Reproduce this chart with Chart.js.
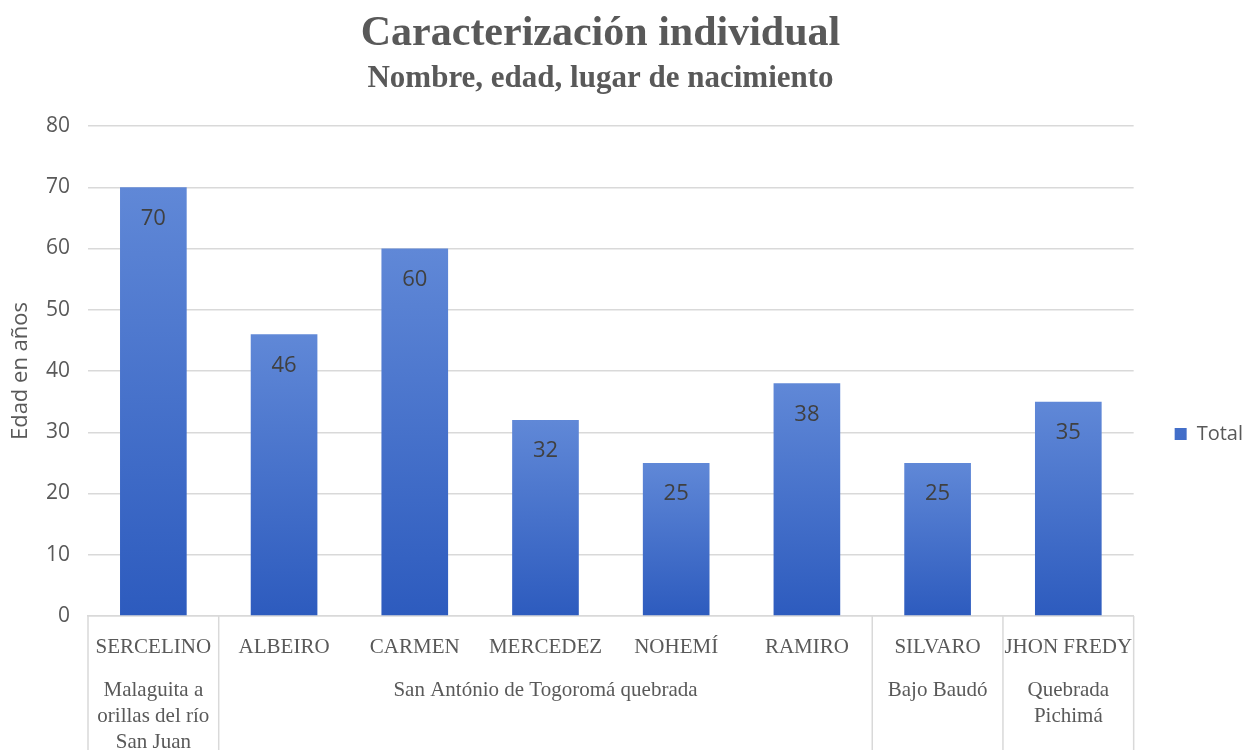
<!DOCTYPE html>
<html>
<head>
<meta charset="utf-8">
<script src="https://cdn.jsdelivr.net/npm/chart.js@4.4.0/dist/chart.umd.min.js"></script>
<style>
  html, body { margin: 0; padding: 0; background: #fff; }
  #wrap { width: 1243px; height: 750px; }
</style>
</head>
<body>
<div id="wrap"><canvas id="grafico"></canvas></div>
<script>
// datos del gráfico
const nombres = ['SERCELINO', 'ALBEIRO', 'CARMEN', 'MERCEDEZ', 'NOHEMÍ', 'RAMIRO', 'SILVARO', 'JHON FREDY'];
const edades = [70, 46, 60, 32, 25, 38, 25, 35];
const lugares = [
  ['Malaguita a', 'orillas del río', 'San Juan'],
  ['San António de Togoromá quebrada'],
  ['Bajo Baudó'],
  ['Quebrada', 'Pichimá']
];
const lugarDesde = [0, 1, 6, 7];
const lugarHasta = [0, 5, 6, 7];
const edadMax = 80;
const edadPaso = 10;
const titulo = 'Caracterización individual';
const subtitulo = 'Nombre, edad, lugar de nacimiento';

const gris = '#595959';
const linea = '#d9d9d9';
const serif = "'Liberation Serif', 'Times New Roman', serif";
const sans = "'Open Sans', 'Liberation Sans', sans-serif";

// títulos arriba, un poco a la izquierda como en el original
const titulosPlugin = {
  id: 'titulos',
  afterDraw(chart) {
    const ctx = chart.ctx;
    const cx = chart.width / 2 - 21;
    ctx.save();
    ctx.fillStyle = gris;
    ctx.textAlign = 'center';
    ctx.textBaseline = 'middle';
    ctx.font = 'bold 42px ' + serif;
    ctx.fillText(titulo, cx, 34);
    ctx.font = 'bold 31px ' + serif;
    ctx.fillText(subtitulo, cx, 79);
    ctx.restore();
  }
};

// leyenda centrada sobre el área del gráfico con el eje
const leyendaPlugin = {
  id: 'leyendaCentro',
  afterLayout(chart) {
    const lg = chart.legend;
    if (!lg) return;
    const objetivo = (chart.chartArea.top + chart.height) / 2 - 4;
    const d = objetivo - (lg.top + lg.bottom) / 2;
    lg.top += d;
    lg.bottom += d;
    lg.left += 10;
    lg.right += 10;
  }
};

// etiquetas de lugar y separadores bajo el eje x
const lugaresPlugin = {
  id: 'lugares',
  afterDraw(chart) {
    const ctx = chart.ctx;
    const x = chart.scales.x;
    const ancho = x.width / nombres.length;
    const abajo = chart.height;
    ctx.save();
    ctx.strokeStyle = linea;
    ctx.lineWidth = 1.5;
    const bordes = [x.getPixelForValue(0) - ancho / 2];
    lugarHasta.forEach(h => bordes.push(x.getPixelForValue(h) + ancho / 2));
    bordes.forEach(b => {
      ctx.beginPath();
      ctx.moveTo(b, x.top);
      ctx.lineTo(b, abajo);
      ctx.stroke();
    });
    ctx.fillStyle = gris;
    ctx.font = '21px ' + serif;
    ctx.textAlign = 'center';
    ctx.textBaseline = 'middle';
    lugares.forEach((lineas, i) => {
      const cx = (x.getPixelForValue(lugarDesde[i]) + x.getPixelForValue(lugarHasta[i])) / 2;
      lineas.forEach((t, j) => ctx.fillText(t, cx, x.top + 74 + j * 26));
    });
    ctx.restore();
  }
};

// valores dentro de las barras
const valoresPlugin = {
  id: 'valores',
  afterDatasetsDraw(chart) {
    const ctx = chart.ctx;
    const meta = chart.getDatasetMeta(0);
    ctx.save();
    ctx.fillStyle = '#404040';
    ctx.font = '22px ' + sans;
    ctx.textAlign = 'center';
    ctx.textBaseline = 'middle';
    meta.data.forEach((bar, i) => {
      ctx.fillText(edades[i], bar.x, bar.y + 31);
    });
    ctx.restore();
  }
};

function degradado(c) {
  const chart = c.chart;
  const { ctx, chartArea, scales } = chart;
  if (!chartArea || c.type !== 'data') return '#3f6bc9';
  const arriba = scales.y.getPixelForValue(c.parsed.y);
  const base = scales.y.getPixelForValue(0);
  const g = ctx.createLinearGradient(0, arriba, 0, base);
  g.addColorStop(0, '#6088d7');
  g.addColorStop(1, '#2d5bbe');
  return g;
}

const ctx = document.getElementById('grafico').getContext('2d');
const grafico = new Chart(ctx, {
  type: 'bar',
  data: {
    labels: nombres,
    datasets: [{
      label: 'Total',
      data: edades,
      backgroundColor: degradado,
      borderWidth: 0,
      categoryPercentage: 1,
      barPercentage: 0.51
    }]
  },
  options: {
    responsive: true,
    maintainAspectRatio: false,
    animation: false,
    layout: { padding: { top: 126, left: 0, right: 0, bottom: 0 } },
    plugins: {
      title: { display: false },
      legend: {
        position: 'right',
        labels: {
          boxWidth: 12,
          boxHeight: 12,
          color: gris,
          font: { family: sans, size: 20 },
          padding: 31
        }
      },
      tooltip: { enabled: false }
    },
    scales: {
      x: {
        grid: { display: false },
        border: { display: true, color: linea, width: 1.5 },
        ticks: {
          color: gris,
          font: { family: serif, size: 21 },
          padding: 11,
          maxRotation: 0,
          autoSkip: false
        },
        afterFit(scale) { scale.height = 134; }
      },
      y: {
        min: 0,
        max: edadMax,
        grid: { color: linea, lineWidth: 1.5, drawTicks: false },
        border: { display: false },
        ticks: {
          stepSize: edadPaso,
          color: gris,
          font: { family: sans, size: 21 },
          padding: 18
        },
        title: {
          display: true,
          text: 'Edad en años',
          color: gris,
          font: { family: sans, size: 22 },
          padding: { top: 8, bottom: 4 }
        },
        afterFit(scale) { scale.width = 88; }
      }
    }
  },
  plugins: [lugaresPlugin, valoresPlugin, titulosPlugin, leyendaPlugin]
});
</script>
</body>
</html>
